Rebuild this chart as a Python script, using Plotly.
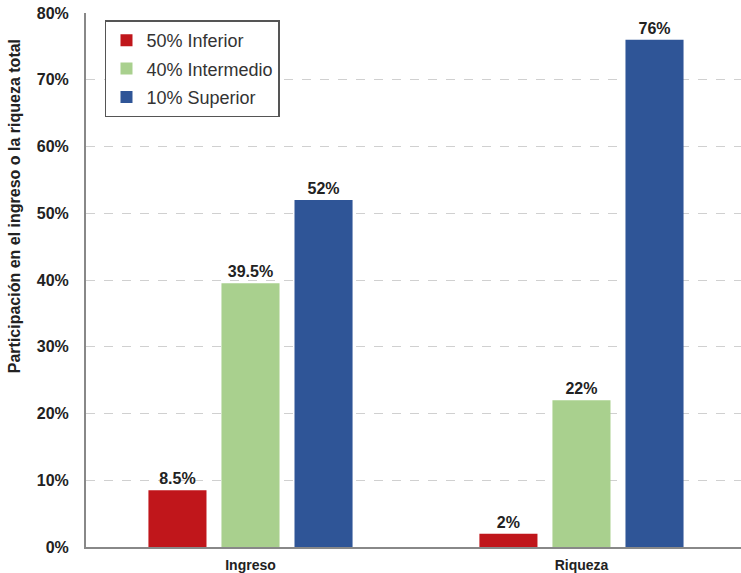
import plotly.graph_objects as go

categories = ["Ingreso", "Riqueza"]
series_names = ["50% Inferior", "40% Intermedio", "10% Superior"]
inferior = [8.5, 2]
intermedio = [39.5, 22]
superior = [52, 76]
labels_inferior = ["8.5%", "2%"]
labels_intermedio = ["39.5%", "22%"]
labels_superior = ["52%", "76%"]
colors = ["#C0161B", "#A9D08E", "#2F5597"]
y_ticks = [0, 10, 20, 30, 40, 50, 60, 70, 80]
y_tick_labels = [f"{v}%" for v in y_ticks]
y_title = "Participación en el ingreso o la riqueza total"

FONT = "Liberation Sans, Arial"

fig = go.Figure()
for name, vals, labs, col in zip(series_names,
                                 [inferior, intermedio, superior],
                                 [labels_inferior, labels_intermedio, labels_superior],
                                 colors):
    fig.add_trace(go.Bar(
        x=categories, y=vals, name=name, legendgroup=name,
        marker=dict(color=col, line=dict(width=0)),
        text=labs, textposition="outside", cliponaxis=False,
        textfont=dict(family=FONT, size=16, color="#222222"),
        texttemplate="<b>%{text}</b>",
    ))

fig.update_layout(
    width=741, height=573,
    margin=dict(l=86, r=0, t=13, b=26),
    paper_bgcolor="white", plot_bgcolor="white",
    barmode="group", bargap=0.338, bargroupgap=0.205,
    font=dict(family=FONT, color="#222222"),
    showlegend=True,
    legend=dict(
        x=0.029, y=0.986, xanchor="left", yanchor="top",
        bgcolor="white", bordercolor="#555555", borderwidth=1.5,
        font=dict(size=18, color="#333333"),
        traceorder="grouped", tracegroupgap=2,
    ),
    xaxis=dict(
        range=[-0.497, 1.482],
        showline=True, linecolor="#888888", linewidth=2,
        ticks="", tickfont=dict(size=14, family=FONT, color="#222222"),
        tickprefix="<b>", ticksuffix="</b>", ticklabelstandoff=4,
    ),
    yaxis=dict(
        range=[0, 80], tickvals=y_ticks, ticktext=[f"<b>{t}</b>" for t in y_tick_labels],
        showline=True, linecolor="#888888", linewidth=2,
        showgrid=True, gridcolor="#D0D0D0", griddash="dash", gridwidth=1,
        zeroline=False,
        tickfont=dict(size=16, color="#222222"),
        ticks="", ticklen=0, ticklabelstandoff=12,
    ),
    annotations=[dict(
        text=f"<b>{y_title}</b>", textangle=-90,
        xref="paper", yref="paper", x=-0.108, y=0.6386,
        xanchor="center", yanchor="middle", showarrow=False,
        font=dict(size=16, color="#222222", family=FONT),
    )],
)

fig.write_html("out.html")
